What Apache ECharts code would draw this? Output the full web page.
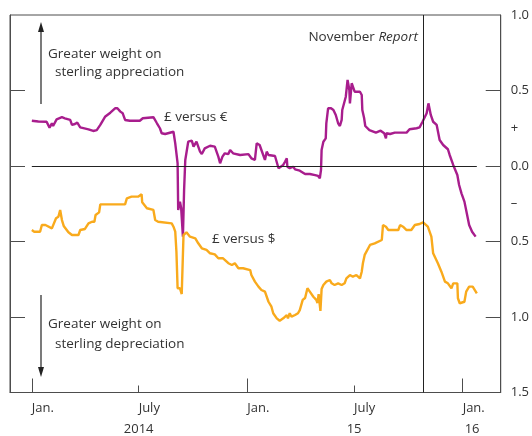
<!DOCTYPE html>
<html>
<head>
<meta charset="utf-8">
<script src="https://cdn.jsdelivr.net/npm/echarts@6/dist/echarts.min.js"></script>
<style>
  html, body { margin: 0; padding: 0; background: #fff; }
  #chart { width: 532px; height: 436px; }
</style>
</head>
<body>
<div id="chart"></div>
<script>
// £ versus € (purple)
var euroDates = [
  '2014-01-01','2014-01-12','2014-01-26','2014-01-31','2014-02-04','2014-02-06','2014-02-12','2014-02-21',
  '2014-02-26','2014-03-07','2014-03-10','2014-03-15','2014-03-19','2014-03-24','2014-04-07','2014-04-15',
  '2014-04-21','2014-04-27','2014-05-05','2014-05-14','2014-05-22','2014-05-26','2014-05-31','2014-06-04',
  '2014-06-08','2014-06-16','2014-07-03','2014-07-08','2014-07-10','2014-07-26','2014-08-01','2014-08-06',
  '2014-08-09','2014-08-15','2014-08-29','2014-09-01','2014-09-05','2014-09-06','2014-09-09','2014-09-11',
  '2014-09-14','2014-09-16','2014-09-18','2014-09-23','2014-09-29','2014-10-02','2014-10-07','2014-10-13',
  '2014-10-16','2014-10-21','2014-10-30','2014-11-07','2014-11-13','2014-11-16','2014-11-20','2014-11-24',
  '2014-11-30','2014-12-03','2014-12-08','2014-12-20','2015-01-03','2015-01-06','2015-01-08','2015-01-14',
  '2015-01-17','2015-01-20','2015-01-22','2015-01-25','2015-01-28','2015-01-31','2015-02-03','2015-02-06',
  '2015-02-08','2015-02-17','2015-02-20','2015-02-23','2015-02-25','2015-03-03','2015-03-06','2015-03-09',
  '2015-03-10','2015-03-14','2015-03-20','2015-03-23','2015-03-31','2015-04-09','2015-04-17','2015-04-26',
  '2015-05-01','2015-05-04','2015-05-06','2015-05-07','2015-05-10','2015-05-14','2015-05-15','2015-05-18',
  '2015-05-23','2015-05-27','2015-05-31','2015-06-04','2015-06-07','2015-06-10','2015-06-11','2015-06-14',
  '2015-06-17','2015-06-20','2015-06-23','2015-06-24','2015-06-27','2015-06-30','2015-07-02','2015-07-05',
  '2015-07-11','2015-07-14','2015-07-15','2015-07-18','2015-07-20','2015-07-27','2015-08-07','2015-08-15',
  '2015-08-21','2015-08-24','2015-08-25','2015-08-31','2015-09-08','2015-09-28','2015-10-03','2015-10-15',
  '2015-10-20','2015-10-25','2015-11-01','2015-11-04','2015-11-08','2015-11-12','2015-11-18','2015-11-23',
  '2015-11-29','2015-12-07','2015-12-10','2015-12-16','2015-12-23','2015-12-26','2015-12-30','2016-01-04',
  '2016-01-08','2016-01-12','2016-01-17','2016-01-23'
];
var euroValues = [
  0.30, 0.295, 0.293, 0.254, 0.283, 0.265, 0.309, 0.323,
  0.316, 0.305, 0.272, 0.278, 0.287, 0.256, 0.243, 0.232,
  0.238, 0.272, 0.326, 0.353, 0.382, 0.382, 0.36, 0.349,
  0.305, 0.30, 0.30, 0.316, 0.323, 0.323, 0.283, 0.25,
  0.217, 0.212, 0.227, 0.15, 0.018, -0.291, -0.236, -0.278,
  -0.468, -0.159, 0.04, 0.161, 0.168, 0.128, 0.161, 0.095,
  0.079, 0.117, 0.134, 0.128, 0.062, 0.018, 0.062, 0.084,
  0.079, 0.106, 0.084, 0.073, 0.079, 0.088, 0.051, 0.04,
  0.15, 0.161, 0.139, 0.106, 0.106, 0.04, 0.095, 0.073,
  0.066, 0.066, 0.062, -0.015, -0.009, 0.007, 0.028, 0.051,
  -0.005, -0.015, -0.005, -0.022, -0.031, -0.053, -0.053, -0.06,
  -0.066, -0.081, -0.026, 0.106, 0.161, 0.183, 0.283, 0.382,
  0.382, 0.371, 0.338, 0.283, 0.265, 0.305, 0.371, 0.382,
  0.459, 0.57, 0.503, 0.415, 0.548, 0.536, 0.492, 0.503,
  0.492, 0.47, 0.371, 0.318, 0.265, 0.238, 0.221, 0.234,
  0.217, 0.183, 0.217, 0.212, 0.221, 0.221, 0.243, 0.25,
  0.256, 0.293, 0.349, 0.415, 0.338, 0.293, 0.272, 0.172,
  0.139, 0.111, 0.073, 0.007, -0.06, -0.126, -0.181, -0.236,
  -0.313, -0.391, -0.435, -0.468
];

// £ versus $ (orange)
var dollarDates = [
  '2014-01-01','2014-01-05','2014-01-15','2014-01-18','2014-01-24','2014-01-26','2014-02-04','2014-02-07',
  '2014-02-11','2014-02-15','2014-02-18','2014-02-21','2014-02-24','2014-03-04','2014-03-10','2014-03-21',
  '2014-03-24','2014-04-01','2014-04-07','2014-04-13','2014-04-17','2014-04-19','2014-04-25','2014-04-27',
  '2014-06-08','2014-06-11','2014-06-19','2014-06-30','2014-07-06','2014-07-07','2014-07-15','2014-07-26',
  '2014-07-29','2014-08-03','2014-08-26','2014-08-29','2014-09-01','2014-09-03','2014-09-05','2014-09-09',
  '2014-09-12','2014-09-15','2014-09-20','2014-09-26','2014-10-05','2014-10-10','2014-10-16','2014-10-24',
  '2014-10-30','2014-11-07','2014-11-13','2014-11-21','2014-11-30','2014-12-06','2014-12-11','2014-12-17',
  '2014-12-25','2015-01-06','2015-01-08','2015-01-14','2015-01-20','2015-01-25','2015-01-31','2015-02-06',
  '2015-02-11','2015-02-14','2015-02-20','2015-02-25','2015-02-28','2015-03-03','2015-03-09','2015-03-11',
  '2015-03-14','2015-03-17','2015-03-23','2015-03-28','2015-03-31','2015-04-05','2015-04-09','2015-04-13',
  '2015-04-17','2015-04-23','2015-04-28','2015-04-30','2015-05-02','2015-05-05','2015-05-07','2015-05-10',
  '2015-05-15','2015-05-21','2015-05-24','2015-05-29','2015-06-04','2015-06-10','2015-06-15','2015-06-18',
  '2015-06-24','2015-06-29','2015-07-05','2015-07-11','2015-07-14','2015-07-16','2015-07-19','2015-07-28',
  '2015-08-05','2015-08-17','2015-08-19','2015-08-24','2015-08-28','2015-09-14','2015-09-17','2015-09-22',
  '2015-09-28','2015-10-06','2015-10-12','2015-10-20','2015-10-26','2015-11-03','2015-11-09','2015-11-12',
  '2015-11-20','2015-11-26','2015-12-02','2015-12-07','2015-12-13','2015-12-16','2015-12-23','2015-12-24',
  '2015-12-27','2016-01-04','2016-01-07','2016-01-12','2016-01-18','2016-01-25'
];
var dollarValues = [
  -0.424, -0.435, -0.435, -0.391, -0.391, -0.402, -0.413, -0.424,
  -0.346, -0.336, -0.291, -0.358, -0.397, -0.439, -0.457, -0.457,
  -0.424, -0.417, -0.38, -0.369, -0.369, -0.325, -0.307, -0.254,
  -0.254, -0.214, -0.203, -0.203, -0.187, -0.24, -0.28, -0.291,
  -0.358, -0.369, -0.38, -0.402, -0.435, -0.568, -0.81, -0.81,
  -0.848, -0.457, -0.439, -0.468, -0.479, -0.512, -0.545, -0.556,
  -0.578, -0.585, -0.611, -0.611, -0.644, -0.656, -0.644, -0.677,
  -0.677, -0.689, -0.722, -0.766, -0.799, -0.821, -0.832, -0.899,
  -0.932, -0.975, -1.009, -1.025, -1.038, -1.009, -0.987, -1.009,
  -0.975, -0.998, -0.987, -0.975, -0.954, -0.887, -0.874, -0.81,
  -0.832, -0.866, -0.887, -0.907, -0.848, -0.96, -0.815, -0.788,
  -0.766, -0.755, -0.777, -0.788, -0.777, -0.788, -0.777, -0.744,
  -0.722, -0.733, -0.722, -0.744, -0.70, -0.644, -0.589, -0.523,
  -0.512, -0.49, -0.391, -0.402, -0.424, -0.424, -0.391, -0.402,
  -0.424, -0.424, -0.391, -0.384, -0.373, -0.402, -0.468, -0.578,
  -0.644, -0.70, -0.766, -0.777, -0.81, -0.777, -0.777, -0.876,
  -0.909, -0.899, -0.832, -0.799, -0.799, -0.843
];

var reportDate = '2015-10-26';
var janTicks = ['2014-01-01', '2015-01-01', '2016-01-01'];
var julyTicks = ['2014-07-01', '2015-07-01'];
var monthDates = ['2014-01-01', '2014-07-01', '2015-01-01', '2015-07-01', '2016-01-01'];
var monthLabels = ['Jan.', 'July', 'Jan.', 'July', 'Jan.'];
var yearDates = ['2014-07-01', '2015-07-01', '2016-01-17'];
var yearLabels = ['2014', '15', '16'];
var yTickValues = [0.5, 0, -0.5, -1];
var yLabelValues = [1, 0.5, 0.25, 0, -0.25, -0.5, -1, -1.5];
var yLabelText = ['1.0', '0.5', '+', '0.0', '\u2013', '0.5', '1.0', '1.5'];

// dates -> timestamps (x axis is a plain value axis in ms)
function ts(s) {
  var p = s.split('-');
  return new Date(+p[0], +p[1] - 1, +p[2]).getTime();
}

var FONT = '"Open Sans", "Noto Sans", sans-serif';
var TXT = '#333333';
var AX = '#4d4d4d';
var purple = '#a81d8d';
var orange = '#f9aa1c';

var xMin = ts('2013-11-25');
var xMax = ts('2016-03-05') + 12 * 3600 * 1000;

var monthTs = monthDates.map(ts);
var yearTs = yearDates.map(ts);

function pickLabel(list, labels, v) {
  for (var i = 0; i < list.length; i++) {
    if (Math.abs(list[i] - v) < 1e-6 * Math.max(1, Math.abs(v))) return labels[i];
  }
  return '';
}

var chart = echarts.init(document.getElementById('chart'), null, { renderer: 'canvas' });

var option = {
  animation: false,
  backgroundColor: '#fff',
  grid: {
    left: 10, right: 31, top: 15, bottom: 43.5,
    show: true, borderColor: AX, borderWidth: 1, backgroundColor: 'transparent'
  },
  xAxis: [
    {
      type: 'value', position: 'bottom', min: xMin, max: xMax, scale: true,
      axisLine: { show: true, onZero: false, lineStyle: { color: AX, width: 1 } },
      axisTick: { show: true, inside: true, length: 14, customValues: janTicks.map(ts), lineStyle: { color: AX, width: 1 } },
      axisLabel: {
        show: true, customValues: monthTs, hideOverlap: false,
        align: 'left', margin: 9, color: TXT, fontSize: 13, fontFamily: FONT,
        formatter: function (v) { return pickLabel(monthTs, monthLabels, v); }
      },
      splitLine: { show: false }
    },
    {
      type: 'value', position: 'bottom', min: xMin, max: xMax, scale: true,
      axisLine: { show: false, onZero: false },
      axisTick: { show: true, inside: true, length: 7, customValues: julyTicks.map(ts), lineStyle: { color: AX, width: 1 } },
      axisLabel: {
        show: true, customValues: yearTs, hideOverlap: false,
        align: 'center', margin: 30, color: TXT, fontSize: 13, fontFamily: FONT,
        formatter: function (v) { return pickLabel(yearTs, yearLabels, v); }
      },
      splitLine: { show: false }
    }
  ],
  yAxis: [
    {
      type: 'value', position: 'left', min: -1.5, max: 1,
      axisLine: { show: true, onZero: false, lineStyle: { color: AX, width: 1 } },
      axisTick: { show: true, inside: true, length: 15, customValues: yTickValues, lineStyle: { color: AX, width: 1 } },
      axisLabel: { show: false },
      splitLine: { show: false }
    },
    {
      type: 'value', position: 'right', min: -1.5, max: 1,
      axisLine: { show: true, onZero: false, lineStyle: { color: AX, width: 1 } },
      axisTick: { show: true, inside: true, length: 15, customValues: yTickValues, lineStyle: { color: AX, width: 1 } },
      axisLabel: {
        show: true, customValues: yLabelValues, hideOverlap: false,
        margin: 10, color: TXT, fontSize: 13, fontFamily: FONT,
        formatter: function (v) { return pickLabel(yLabelValues, yLabelText, v); }
      },
      splitLine: { show: false }
    }
  ],
  series: [
    {
      name: '\u00a3 versus \u20ac', type: 'line',
      xAxisIndex: 0, yAxisIndex: 0,
      data: euroDates.map(function (d, i) { return [ts(d), euroValues[i]]; }),
      showSymbol: false, symbol: 'none',
      lineStyle: { color: purple, width: 2.4 },
      itemStyle: { color: purple },
      z: 3,
      markLine: {
        silent: true, symbol: 'none', animation: false,
        label: { show: false },
        lineStyle: { color: '#222', width: 1, type: 'solid' },
        data: [
          [{ coord: [ts(euroDates[0]), 0] }, { coord: [ts(dollarDates[dollarDates.length - 1]), 0] }],
          { xAxis: ts(reportDate) }
        ]
      }
    },
    {
      name: '\u00a3 versus $', type: 'line',
      xAxisIndex: 0, yAxisIndex: 0,
      data: dollarDates.map(function (d, i) { return [ts(d), dollarValues[i]]; }),
      showSymbol: false, symbol: 'none',
      lineStyle: { color: orange, width: 2.4 },
      itemStyle: { color: orange },
      z: 3
    }
  ],
  graphic: [
    // arrows
    { type: 'line', shape: { x1: 41, y1: 104, x2: 41, y2: 30 }, style: { stroke: '#222', lineWidth: 1.2 } },
    { type: 'polygon', shape: { points: [[41, 22], [38, 32], [44, 32]] }, style: { fill: '#222' } },
    { type: 'line', shape: { x1: 41, y1: 295, x2: 41, y2: 368 }, style: { stroke: '#222', lineWidth: 1.2 } },
    { type: 'polygon', shape: { points: [[41, 377], [38, 367], [44, 367]] }, style: { fill: '#222' } },
    // text notes
    { type: 'text', x: 48, y: 54, style: { text: 'Greater weight on', font: '13.5px ' + FONT, fill: TXT, textAlign: 'left', textVerticalAlign: 'middle', align: 'left', verticalAlign: 'middle' } },
    { type: 'text', x: 55, y: 72, style: { text: 'sterling appreciation', font: '13.5px ' + FONT, fill: TXT, textAlign: 'left', textVerticalAlign: 'middle', align: 'left', verticalAlign: 'middle' } },
    { type: 'text', x: 48, y: 324, style: { text: 'Greater weight on', font: '13.5px ' + FONT, fill: TXT, textAlign: 'left', textVerticalAlign: 'middle', align: 'left', verticalAlign: 'middle' } },
    { type: 'text', x: 55, y: 344, style: { text: 'sterling depreciation', font: '13.5px ' + FONT, fill: TXT, textAlign: 'left', textVerticalAlign: 'middle', align: 'left', verticalAlign: 'middle' } },
    { type: 'text', x: 164, y: 117, style: { text: '\u00a3 versus \u20ac', font: '13.5px ' + FONT, fill: TXT, textAlign: 'left', textVerticalAlign: 'middle', align: 'left', verticalAlign: 'middle' } },
    { type: 'text', x: 212, y: 239, style: { text: '\u00a3 versus $', font: '13.5px ' + FONT, fill: TXT, textAlign: 'left', textVerticalAlign: 'middle', align: 'left', verticalAlign: 'middle' } },
    {
      type: 'text', x: 418, y: 37,
      style: {
        text: '{n|November }{i|Report}',
        rich: {
          n: { fontSize: 13.5, fontFamily: FONT, color: TXT },
          i: { fontSize: 13.5, fontFamily: FONT, color: TXT, fontStyle: 'italic' }
        },
        fill: TXT, textAlign: 'right', textVerticalAlign: 'middle', align: 'right', verticalAlign: 'middle'
      }
    }
  ]
};

chart.setOption(option);
</script>
</body>
</html>
